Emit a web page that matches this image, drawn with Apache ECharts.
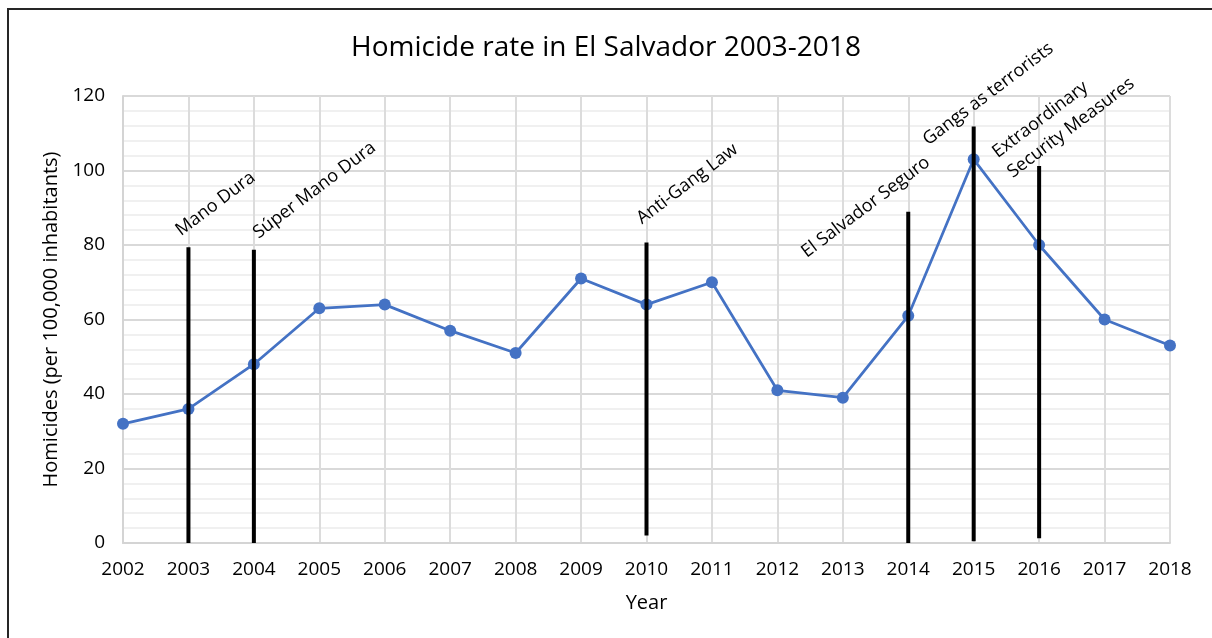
<!DOCTYPE html>
<html>
<head>
<meta charset="utf-8">
<title>Homicide rate in El Salvador 2003-2018</title>
<script src="https://cdn.jsdelivr.net/npm/echarts@6/dist/echarts.min.js"></script>
<style>
  html, body { margin: 0; padding: 0; background: #fff; }
  #chart { width: 1212px; height: 638px; }
</style>
</head>
<body>
<div id="chart"></div>
<script>
// Years on the horizontal axis
const years = ['2002','2003','2004','2005','2006','2007','2008','2009','2010',
               '2011','2012','2013','2014','2015','2016','2017','2018'];

// Homicides per 100,000 inhabitants
const homicideRate = [32, 36, 48, 63, 64, 57, 51, 71, 64, 70, 41, 39, 61, 103, 80, 60, 53];

// Policy milestones: year, bottom and top of the marker bar, and caption
const policyYears = ['2003', '2004', '2010', '2014', '2015', '2016'];
const policyLow   = [0, 0, 2, 0, 0.5, 1.3];
const policyHigh  = [79.4, 78.7, 80.7, 88.9, 111.8, 101.2];
const policyText  = ['Mano Dura', 'Súper Mano Dura', 'Anti-Gang Law',
                     'El Salvador Seguro', 'Gangs as terrorists',
                     'Extraordinary\nSecurity Measures'];

// Caption placement relative to the top of each marker bar (pixels)
const captionOffset = [[-3, -5], [9, -5], [0, -12], [-97, 52], [-41, 25], [-22, 18]];

const FONT = '"Open Sans", sans-serif';
const ANGLE = 37 * Math.PI / 180;

const policyData = policyYears.map((y, i) => [years.indexOf(y), policyLow[i], policyHigh[i], i]);

const chart = echarts.init(document.getElementById('chart'), null, { renderer: 'canvas' });

chart.setOption({
  backgroundColor: '#ffffff',
  animation: false,
  textStyle: { fontFamily: FONT },
  title: {
    text: 'Homicide rate in El Salvador 2003-2018',
    left: 'center',
    top: 29,
    textStyle: { fontFamily: FONT, fontSize: 28, fontWeight: 'normal', color: '#000' }
  },
  graphic: [{
    type: 'rect',
    shape: { x: 8, y: 9, width: 1300, height: 700 },
    style: { fill: 'none', stroke: '#262626', lineWidth: 2 },
    silent: true,
    z: 100
  }],
  grid: { left: 123, right: 42, top: 96, bottom: 95, containLabel: false },
  xAxis: {
    type: 'category',
    data: years,
    boundaryGap: false,
    name: 'Year',
    nameLocation: 'middle',
    nameGap: 50,
    nameTextStyle: { fontFamily: FONT, fontSize: 20, color: '#000' },
    axisLine: { show: true, lineStyle: { color: '#d4d4d4', width: 2 } },
    axisTick: { show: false },
    axisLabel: { fontFamily: FONT, fontSize: 19, color: '#000', margin: 17 },
    splitLine: { show: true, lineStyle: { color: '#dcdcdc', width: 2 } }
  },
  yAxis: {
    type: 'value',
    min: 0,
    max: 120,
    interval: 20,
    name: 'Homicides (per 100,000 inhabitants)',
    nameLocation: 'middle',
    nameGap: 60,
    nameTextStyle: { fontFamily: FONT, fontSize: 20, color: '#000' },
    axisLine: { show: true, lineStyle: { color: '#d4d4d4', width: 2 } },
    axisTick: { show: false },
    axisLabel: { fontFamily: FONT, fontSize: 19, color: '#000', margin: 18 },
    splitLine: { show: true, lineStyle: { color: '#d9d9d9', width: 2 } },
    minorTick: { show: false, splitNumber: 5 },
    minorSplitLine: { show: true, lineStyle: { color: '#ececec', width: 1.5 } }
  },
  series: [
    {
      name: 'Homicide rate',
      type: 'line',
      data: homicideRate,
      symbol: 'circle',
      symbolSize: 12,
      lineStyle: { color: '#4472C4', width: 2.75 },
      itemStyle: { color: '#4472C4' },
      z: 3
    },
    {
      name: 'Policy milestones',
      type: 'custom',
      data: policyData,
      z: 4,
      clip: false,
      renderItem: function (params, api) {
        const top = api.coord([api.value(0), api.value(2)]);
        const bottom = api.coord([api.value(0), api.value(1)]);
        const idx = api.value(3);
        const off = captionOffset[idx];
        return {
          type: 'group',
          children: [
            {
              type: 'line',
              shape: { x1: top[0], y1: top[1], x2: bottom[0], y2: bottom[1] },
              style: { stroke: '#000', lineWidth: 4 }
            },
            {
              type: 'text',
              x: top[0] + off[0],
              y: top[1] + off[1],
              rotation: ANGLE,
              style: {
                text: policyText[idx],
                x: 0, y: 0,
                fill: '#000',
                font: '18px ' + FONT,
                lineHeight: 25,
                textAlign: 'left',
                textVerticalAlign: 'bottom'
              }
            }
          ]
        };
      }
    }
  ]
});
</script>
</body>
</html>
